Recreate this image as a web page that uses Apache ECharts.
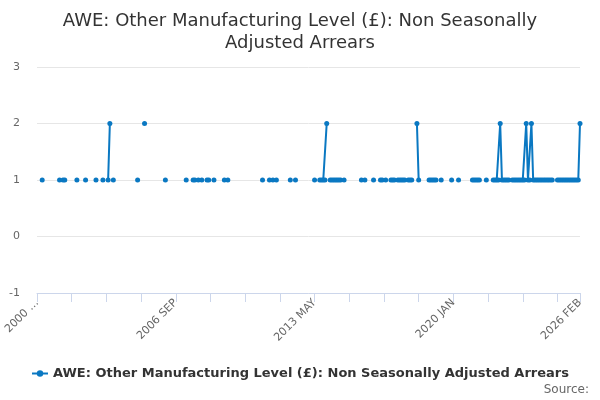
<!DOCTYPE html>
<html>

<head>
  <meta charset="utf-8">
  <title>AWE: Other Manufacturing Level (£): Non Seasonally Adjusted Arrears</title>
  <script src="https://cdn.jsdelivr.net/npm/echarts@6/dist/echarts.min.js"></script>
  <style>
    body {
      margin: 0;
      padding: 0;
      background-color: #fff;
    }

    #main {
      width: 600px;
      height: 400px;
    }
  </style>
</head>

<body>
  <div id="main"></div>

  <script type="text/javascript">
    // monthly categories, 2000 JAN .. 2026 FEB
    var years = [2000, 2001, 2002, 2003, 2004, 2005, 2006, 2007, 2008, 2009, 2010, 2011, 2012,
      2013, 2014, 2015, 2016, 2017, 2018, 2019, 2020, 2021, 2022, 2023, 2024, 2025, 2026];
    var months = ['JAN', 'FEB', 'MAR', 'APR', 'MAY', 'JUN', 'JUL', 'AUG', 'SEP', 'OCT', 'NOV', 'DEC'];
    var lastMonth = 'FEB';

    var yTicks = [-1, 0, 1, 2, 3];

    var seriesName = 'AWE: Other Manufacturing Level (£): Non Seasonally Adjusted Arrears';

    // one row per year, JAN..DEC (null = no value)
    var _ = null;
    var arrears = [
      _, _, _, 1, _, _, _, _, _, _, _, _,   // 2000
      _, 1, _, 1, 1, _, _, _, _, _, _, 1,   // 2001
      _, _, _, _, 1, _, _, _, _, _, 1, _,   // 2002
      _, _, 1, _, _, 1, 2, _, 1, _, _, _,   // 2003
      _, _, _, _, _, _, _, _, _, _, 1, _,   // 2004
      _, _, 2, _, _, _, _, _, _, _, _, _,   // 2005
      _, _, 1, _, _, _, _, _, _, _, _, _,   // 2006
      _, _, 1, _, _, _, 1, 1, _, 1, _, 1,   // 2007
      _, _, 1, 1, _, _, 1, _, _, _, _, _,   // 2008
      1, _, 1, _, _, _, _, _, _, _, _, _,   // 2009
      _, _, _, _, _, _, _, _, _, _, 1, _,   // 2010
      _, _, 1, _, 1, _, 1, _, _, _, _, _,   // 2011
      _, _, 1, _, _, 1, _, _, _, _, _, _,   // 2012
      _, _, _, _, 1, _, _, 1, 1, 1, 1, 2,   // 2013
      _, 1, 1, 1, 1, 1, 1, 1, _, 1, _, _,   // 2014
      _, _, _, _, _, _, _, 1, _, 1, _, _,   // 2015
      _, _, 1, _, _, _, 1, 1, _, 1, _, _,   // 2016
      1, 1, 1, _, 1, 1, 1, 1, 1, _, 1, 1,   // 2017
      1, _, _, 2, 1, _, _, _, _, _, 1, 1,   // 2018
      1, 1, 1, _, _, 1, _, _, _, _, _, 1,   // 2019
      _, _, _, 1, _, _, _, _, _, _, _, 1,   // 2020
      1, 1, 1, 1, _, _, _, 1, _, _, _, 1,   // 2021
      1, 1, 1, 2, 1, 1, 1, 1, 1, _, 1, 1,   // 2022
      1, 1, 1, 1, 1, 1, 2, 1, 1, 2, 1, 1,   // 2023
      1, 1, 1, 1, 1, 1, 1, 1, 1, 1, _, _,   // 2024
      1, 1, 1, 1, 1, 1, 1, 1, 1, 1, 1, 1,   // 2025
      1, 2                                  // 2026
    ];

    var categories = [];
    for (var y = 0; y < years.length; y++) {
      for (var m = 0; m < 12; m++) {
        categories.push(years[y] + ' ' + months[m]);
        if (y === years.length - 1 && months[m] === lastMonth) break;
      }
    }
    var last = categories.length - 1;

    var chart = echarts.init(document.getElementById('main'));
    var font = 'DejaVu Sans';

    var option = {
      animation: false,
      textStyle: { fontFamily: font },
      title: {
        text: 'AWE: Other Manufacturing Level (£): Non Seasonally\nAdjusted Arrears',
        left: 'center',
        top: 5,
        textStyle: {
          fontFamily: font,
          fontSize: 18,
          fontWeight: 'normal',
          color: '#333333',
          lineHeight: 22
        }
      },
      legend: {
        data: [seriesName],
        bottom: 15,
        left: 'center',
        itemWidth: 16,
        itemHeight: 8,
        textStyle: {
          fontFamily: font,
          fontSize: 13,
          fontWeight: 'bold',
          color: '#333333'
        }
      },
      graphic: [{
        type: 'text',
        right: 11,
        top: 384,
        style: {
          text: 'Source:',
          fontFamily: font,
          fontSize: 12,
          fill: '#666666'
        }
      }],
      grid: {
        left: 37,
        right: 20,
        top: 67,
        bottom: 107
      },
      xAxis: {
        type: 'category',
        data: categories,
        boundaryGap: false,
        axisLine: { onZero: false, lineStyle: { color: '#ccd6eb' } },
        axisTick: {
          length: 9,
          lineStyle: { color: '#ccd6eb' },
          interval: function (idx) { return idx % 20 === 0 || idx === last; }
        },
        axisLabel: {
          rotate: 45,
          fontSize: 11,
          color: '#666666',
          fontFamily: font,
          margin: 8,
          interval: function (idx) { return idx % 80 === 0 || idx === last; },
          formatter: function (val, idx) {
            return idx === 0 ? val.slice(0, 4) + ' …' : val;
          }
        },
        splitLine: { show: false }
      },
      yAxis: {
        type: 'value',
        min: yTicks[0],
        max: yTicks[yTicks.length - 1],
        interval: 1,
        axisLine: { show: false },
        axisTick: { show: false },
        axisLabel: {
          fontSize: 11,
          color: '#666666',
          fontFamily: font,
          margin: 17
        },
        splitLine: { lineStyle: { color: '#e6e6e6' } }
      },
      series: [{
        name: seriesName,
        type: 'line',
        data: arrears,
        connectNulls: false,
        showSymbol: true,
        showAllSymbol: true,
        symbol: 'circle',
        symbolSize: 5,
        color: '#0a78c2',
        lineStyle: { width: 2, color: '#0a78c2' },
        itemStyle: { color: '#0a78c2' }
      }]
    };

    chart.setOption(option);
  </script>
</body>

</html>
